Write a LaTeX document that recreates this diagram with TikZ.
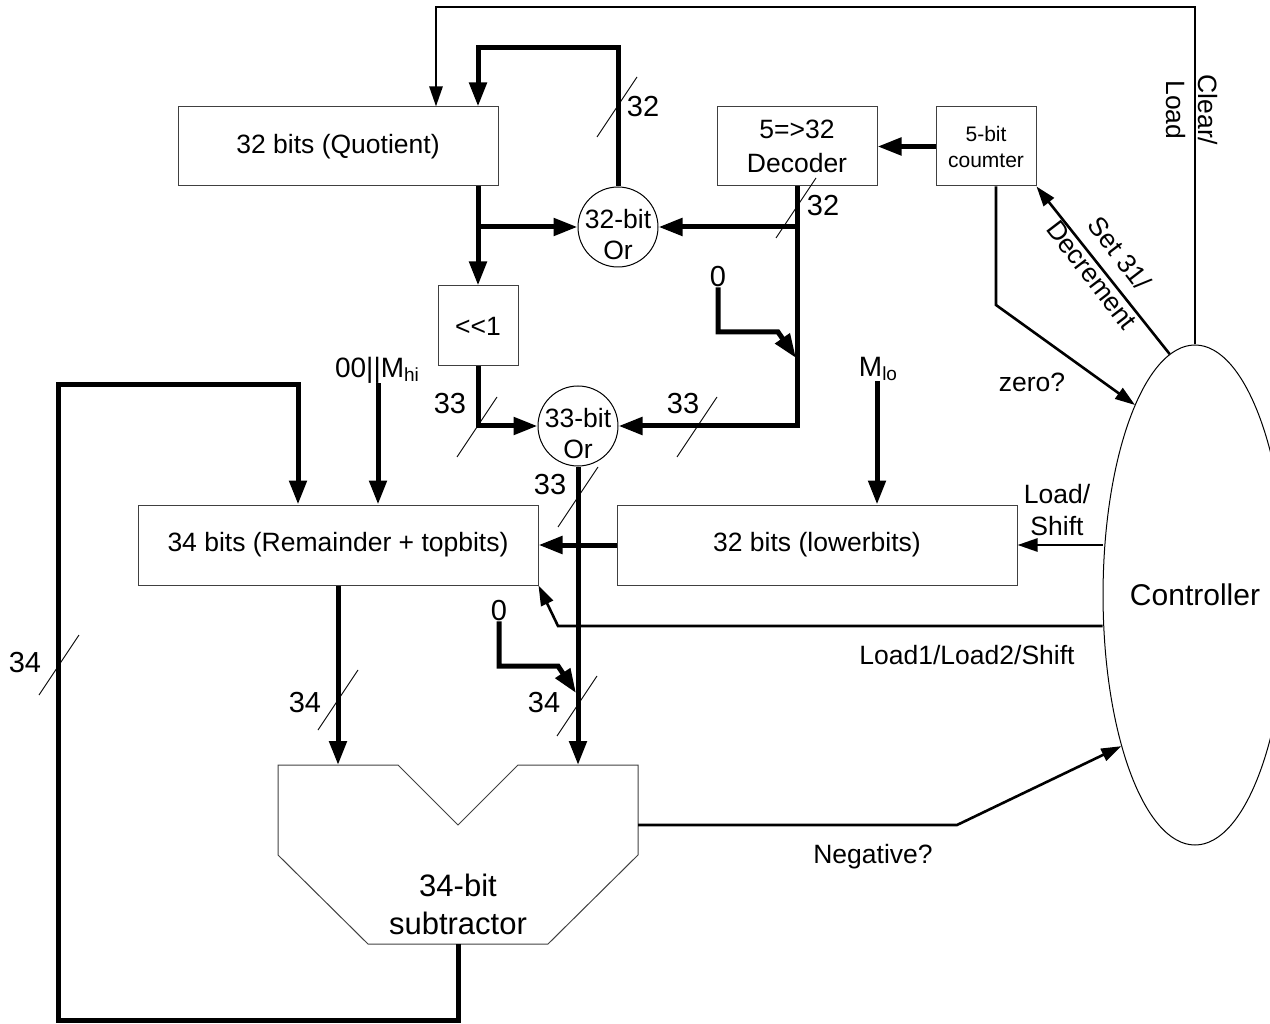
\documentclass[tikz,border=0pt]{standalone}
\usepackage{fontspec}
\setmainfont{Liberation Sans}
\usetikzlibrary{arrows.meta,shapes.geometric}
\begin{document}
\begin{tikzpicture}[x=1pt,y=-1pt,
  box/.style={draw=black!75,line width=1pt,rectangle,inner sep=0pt,align=center},
  orc/.style={draw=black,line width=1pt,circle,minimum size=80pt,inner sep=0pt},
  bus/.style={line width=5pt},
  sig/.style={line width=2.6pt},
  bh/.style={-{Triangle[length=24pt,width=17pt]}},
  sh/.style={-{Triangle[length=20pt,width=13pt]}},
  hair/.style={line width=0.9pt},
  lbl/.style={inner sep=0pt,align=center,font=\fontsize{26.5}{33}\selectfont},
  num/.style={inner sep=0pt,font=\fontsize{29}{34}\selectfont},
  font=\fontsize{26.5}{33}\selectfont]
\useasboundingbox (0,0) rectangle (1270,1024);
\newcommand\busslash[1]{\draw[hair] (#1) ++(-20,30) -- ++(40,-60);}

% boxes
\node[box,minimum width=320pt,minimum height=79pt] (quot) at (338,146.5) {32 bits (Quotient)};
\node[box,minimum width=160pt,minimum height=79pt,font=\fontsize{26.5}{34}\selectfont] (dec) at (797,146.5) {5=>32\\Decoder};
\node[box,minimum width=100pt,minimum height=79pt,font=\fontsize{21}{26}\selectfont] (cnt) at (986,146.5) {5-bit\\coumter};
\node[box,minimum width=80pt,minimum height=80pt] (shl) at (478,326) {<{}<1};
\node[box,minimum width=400pt,minimum height=80pt] (rem) at (338,545) {34 bits (Remainder + topbits)};
\node[box,minimum width=400pt,minimum height=80pt] (low) at (817,545) {32 bits (lowerbits)};
\node[orc] (or32) at (618,227) {};
\node[lbl,font=\fontsize{26.5}{31}\selectfont] (or32t) at (618,235) {32-bit\\Or};
\node[orc] (or33) at (578,426) {};
\node[lbl,font=\fontsize{26.5}{31}\selectfont] (or33t) at (578,434) {33-bit\\Or};
\node[draw,ellipse,line width=1pt,minimum width=156pt,minimum height=500pt,inner sep=0pt,font=\fontsize{30}{34}\selectfont] (ctrl) at (1195,595) {Controller};

% subtractor
\draw[line width=1pt,draw=black!75] (278,765) -- (398,765) -- (458,825) -- (518,765) -- (638,765) -- (638,855) -- (548,944) -- (368,944) -- (278,855) -- cycle;
\node[lbl,font=\fontsize{31}{38}\selectfont] (subt) at (458,904) {34-bit\\subtractor};
\coordinate (subL) at (338,765);
\coordinate (subR) at (578,765);
\coordinate (subE) at (638,825);
\coordinate (subB) at (458,944);

% texts
\node[num] (z1) at (718,277) {0};
\node[num] (z2) at (499,611) {0};
\node[lbl,font=\fontsize{28}{33}\selectfont] (mhi) at (377,370) {00||M\raisebox{-0.3ex}{\fontsize{19}{19}\selectfont hi}};
\node[lbl,font=\fontsize{28}{33}\selectfont] (mlo) at (878,369) {M\raisebox{-0.3ex}{\fontsize{19}{19}\selectfont lo}};
\node[lbl,font=\fontsize{26.5}{32}\selectfont] (ls) at (1057,510) {Load/\\Shift};
\node[lbl] (lls) at (967,655) {Load1/Load2/Shift};
\node[lbl] (neg) at (873,857) {Negative?};
\node[lbl] (zero) at (1032,382) {zero?};
\node[lbl,rotate=-90,font=\fontsize{26.5}{32}\selectfont] (cl) at (1192,110) {Clear/\\Load};
\node[lbl,rotate=-52.5,font=\fontsize{26.5}{35}\selectfont] (sd) at (1106,264) {Set 31/\\Decrement};

% width labels
\node[num] (n1) at (643,107) {32};
\node[num] (n2) at (823,206) {32};
\node[num] (n3) at (450,404) {33};
\node[num] (n4) at (683,404) {33};
\node[num] (n5) at (550,485) {33};
\node[num] (n6) at (544,703) {34};
\node[num] (n7) at (305,703) {34};
\node[num] (n8) at (25,663) {34};

% junction coordinates
\coordinate (j1) at (797,227);
\coordinate (j2) at (796,358);
\coordinate (j3) at (478,227);
\coordinate (j4) at (576,693);
\coordinate (zt) at (1135,405);

% thick buses
\draw[bus,bh] (or32.north) -- (618,48) -- (478,48) -- (quot.north -| 478,0);
\draw[bus,bh] (cnt.west) -- (dec.east);
\draw[bus,bh] (dec.south) |- (or33.east);
\draw[bus,bh] (j1) -- (or32.east);
\draw[bus,bh] (z1.south) |- (778,332) -- (j2);
\draw[bus,bh] (quot.south -| shl.north) -- (shl.north);
\draw[bus,bh] (j3) -- (or32.west);
\draw[bus,bh] (shl.south) |- (or33.west);
\draw[bus,bh] (or33.south) -- (subR);
\draw[bus,bh] (z2.south) |- (558,666) -- (j4);
\draw[bus,bh] (rem.south) -- (subL);
\draw[bus,bh] (subB) -- (458,1020) -- (58,1020) -- (58,385) -- (298,385) -- (rem.north -| 298,0);
\draw[bus,bh] (mhi.south -| 378,0) -- (rem.north -| 378,0);
\draw[bus,bh] (mlo.south -| 877,0) -- (low.north -| 877,0);
\draw[bus,bh] (low.west) -- (rem.east);

% thin signals
\draw[sig,sh] (ctrl.north) -- (1195,7) -- (436,7) -- (quot.north -| 436,0);
\draw[sig,sh] (ctrl.96.5) -- (cnt.south east);
\draw[sig,sh] (cnt.south -| 996,0) -- (996,305) -- (zt);
\draw[sig,sh] (low.east -| ctrl.west) -- (low.east);
\draw[sig,sh] (ctrl.west |- 0,626) -- (558,626) -- (rem.south east);
\draw[sig,sh] (subE) -- (957,825) -- (ctrl.244);

% bus slashes
\busslash{617,107}
\busslash{796,208}
\busslash{477,427}
\busslash{697,427}
\busslash{578,497}
\busslash{577,706}
\busslash{338,700}
\busslash{59,665}
\end{tikzpicture}
\end{document}
